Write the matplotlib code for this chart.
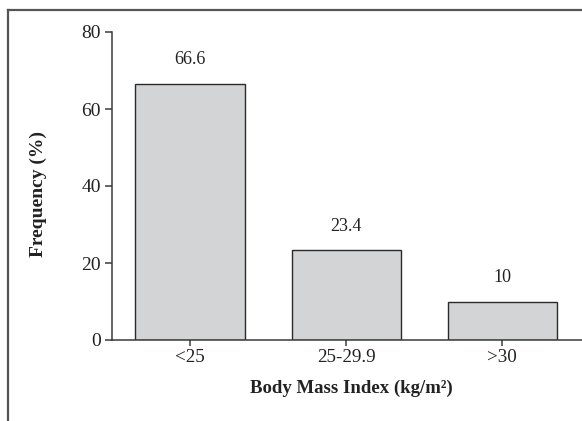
import matplotlib
matplotlib.use("Agg")
import matplotlib.pyplot as plt
from matplotlib.lines import Line2D

categories = ["<25", "25-29.9", ">30"]
frequency = [66.6, 23.4, 10]
value_labels = ["66.6", "23.4", "10"]
y_ticks = [0, 20, 40, 60, 80]

W, H, DPI = 582, 421, 100
plt.rcParams["font.family"] = ["Liberation Serif", "DejaVu Serif"]

fig = plt.figure(figsize=(W / DPI, H / DPI), dpi=DPI)

def px(x0, y0):
    return x0 / W, 1 - y0 / H

# axes area in pixel terms
left, right, top, bottom = 112, 582, 32, 340
ax = fig.add_axes([left / W, 1 - bottom / H, (right - left) / W, (bottom - top) / H])

spine_c = "#3a3a3a"
x = range(len(categories))
ax.bar(x, frequency, width=0.7, color="#d3d4d6", edgecolor="#2a2a2a", linewidth=1.0, zorder=2)

for xi, v, lab in zip(x, frequency, value_labels):
    ax.annotate(lab, (xi, v), xytext=(0, 11), textcoords="offset points",
                ha="center", va="bottom", fontsize=13, color="#222222")

ax.set_xlim(-0.5, 2.51)
ax.set_ylim(0, 80)
ax.set_yticks(y_ticks)
ax.set_xticks(list(x))
ax.set_xticklabels(categories)

for s in ["top", "right"]:
    ax.spines[s].set_visible(False)
for s in ["left", "bottom"]:
    ax.spines[s].set_color(spine_c)
    ax.spines[s].set_linewidth(1.1)

ax.tick_params(axis="y", direction="out", length=5, width=1.1, color=spine_c,
               labelsize=14, labelcolor="#222222", pad=3)
ax.tick_params(axis="x", direction="out", length=4.5, width=1.1, color=spine_c,
               labelsize=13.7, labelcolor="#222222", pad=2)

fx, fy = px(38, 194)
fig.text(fx, fy, "Frequency (%)", rotation=90, ha="center", va="center",
         fontsize=14, fontweight="bold", color="#222222")
fx, fy = px(351, 388)
fig.text(fx, fy, "Body Mass Index (kg/m²)", ha="center", va="center",
         fontsize=13.5, fontweight="bold", color="#222222")

# partial frame around the panel
fig.add_artist(Line2D([8 / W, 1.0], [1 - 9.5 / H] * 2, transform=fig.transFigure,
                      color="#555555", linewidth=1.6))
fig.add_artist(Line2D([8 / W] * 2, [1 - 9.5 / H, 0.0], transform=fig.transFigure,
                      color="#555555", linewidth=1.6))

fig.savefig("out.png", dpi=DPI)
